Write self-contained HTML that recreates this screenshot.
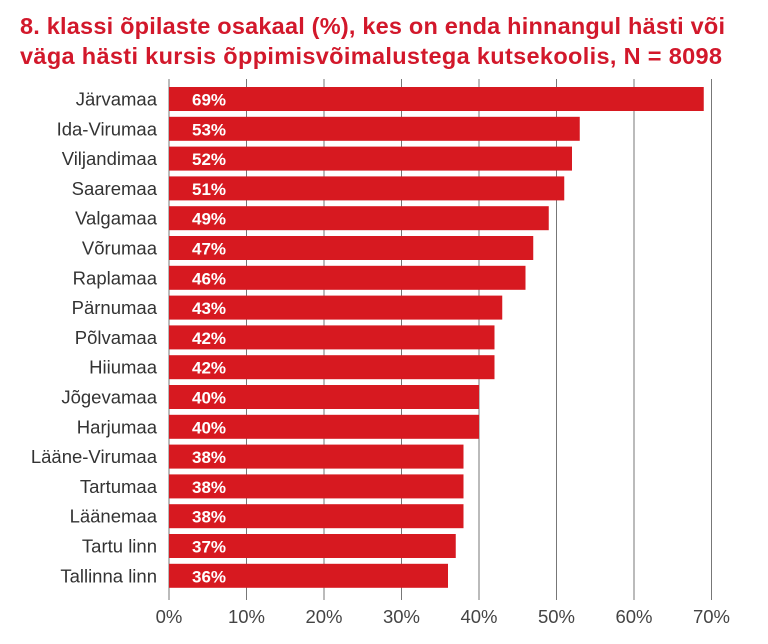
<!DOCTYPE html>
<html><head><meta charset="utf-8"><style>
body{margin:0;background:#fff;width:768px;height:639px;overflow:hidden;font-family:"Liberation Sans",sans-serif}
</style></head><body>
<svg width="768" height="639" xmlns="http://www.w3.org/2000/svg" font-family="Liberation Sans, sans-serif">
<text x="20" y="34" font-size="23.5" font-weight="bold" fill="#d2182b" textLength="705">8. klassi õpilaste osakaal (%), kes on enda hinnangul hästi või</text>
<text x="20" y="64" font-size="23.5" font-weight="bold" fill="#d2182b" textLength="702">väga hästi kursis õppimisvõimalustega kutsekoolis, N = 8098</text>
<g stroke="#777" stroke-width="1">
<line x1="169" y1="79" x2="169" y2="600"/><line x1="246.5" y1="79" x2="246.5" y2="600"/><line x1="324" y1="79" x2="324" y2="600"/><line x1="401.5" y1="79" x2="401.5" y2="600"/><line x1="479" y1="79" x2="479" y2="600"/><line x1="556.5" y1="79" x2="556.5" y2="600"/><line x1="634" y1="79" x2="634" y2="600"/><line x1="711.5" y1="79" x2="711.5" y2="600"/>
</g>
<g font-size="18.5" fill="#444" text-anchor="middle">
<text x="169" y="623">0%</text><text x="246.5" y="623">10%</text><text x="324" y="623">20%</text><text x="401.5" y="623">30%</text><text x="479" y="623">40%</text><text x="556.5" y="623">50%</text><text x="634" y="623">60%</text><text x="711.5" y="623">70%</text>
</g>
<g id="bars"></g>
</svg>
<script>
var d=[["Järvamaa",69],["Ida-Virumaa",53],["Viljandimaa",52],["Saaremaa",51],["Valgamaa",49],["Võrumaa",47],["Raplamaa",46],["Pärnumaa",43],["Põlvamaa",42],["Hiiumaa",42],["Jõgevamaa",40],["Harjumaa",40],["Lääne-Virumaa",38],["Tartumaa",38],["Läänemaa",38],["Tartu linn",37],["Tallinna linn",36]];
var g=document.getElementById("bars"),s="";
d.forEach(function(r,i){var y=87+i*29.8;
s+='<rect x="169" y="'+y+'" width="'+(r[1]*7.75)+'" height="24" fill="#d71920"/>';
s+='<text x="157" y="'+(y+18.5)+'" font-size="18.5" fill="#333" text-anchor="end">'+r[0]+'</text>';
s+='<text x="192" y="'+(y+18.5)+'" font-size="17" font-weight="bold" fill="#fff">'+r[1]+'%</text>';});
g.innerHTML=s;
</script>
</body></html>
